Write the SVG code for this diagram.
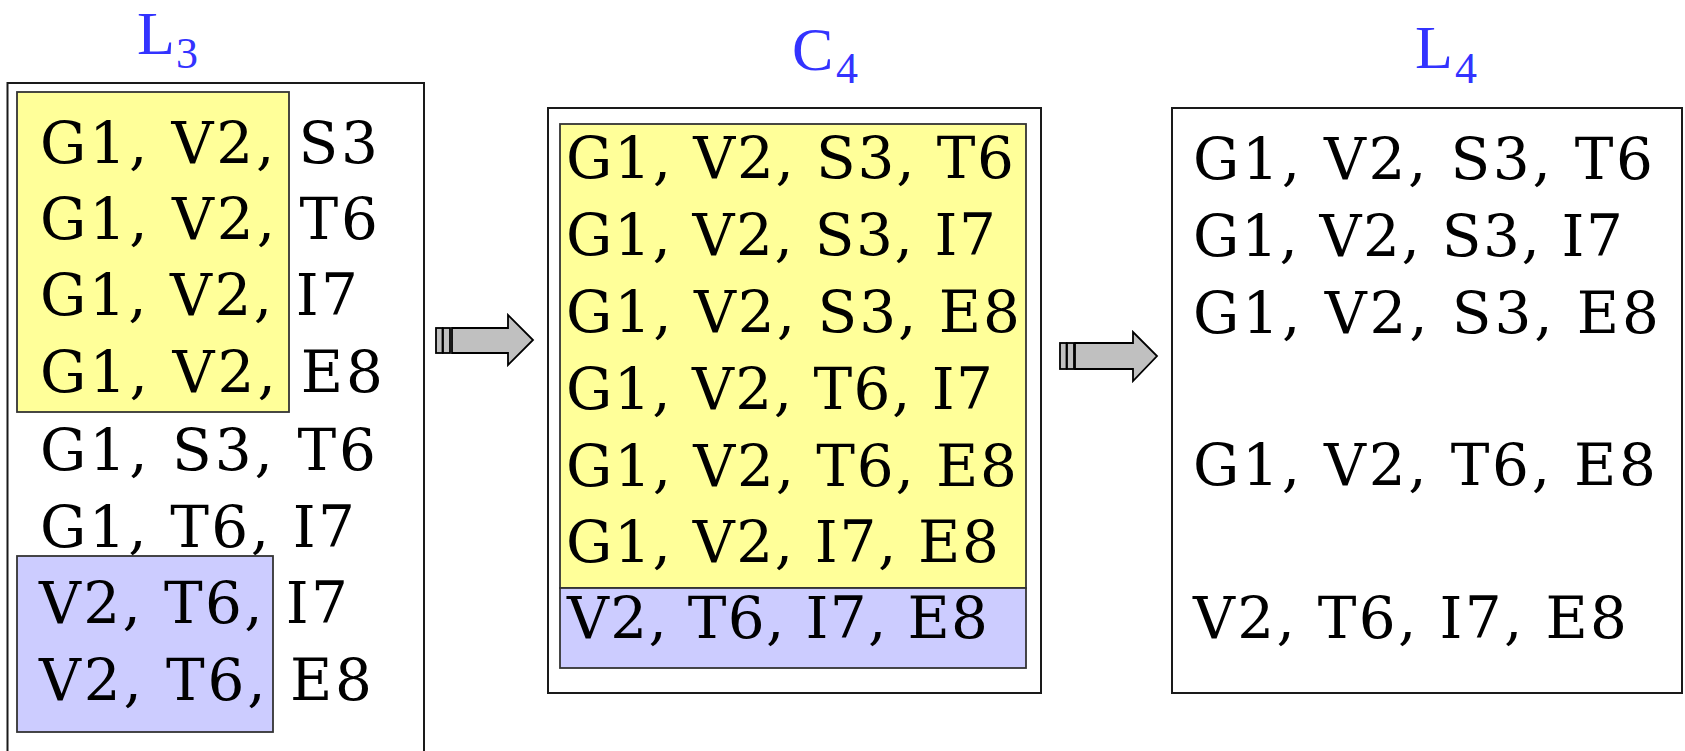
<svg xmlns="http://www.w3.org/2000/svg" width="1685" height="751" viewBox="0 0 1685 751">
<style>
.box{fill:#ffffff;stroke:#1a1a1a;stroke-width:2}
.yel{fill:#ffff99;stroke:#333333;stroke-width:1.8}
.blu{fill:#ccccff;stroke:#333333;stroke-width:1.8}
.t{font-family:"DejaVu Serif","Liberation Serif",serif;font-size:58px;fill:#000000}
.lab{font-family:"Liberation Serif","Times New Roman",serif;fill:#3333ff}
.arr{fill:#c0c0c0;stroke:#000000;stroke-width:1.8;stroke-linejoin:miter}
</style>
<rect width="1685" height="751" fill="#ffffff"/>

<g id="node-L3">
  <text class="lab"><tspan x="137" y="54" font-size="62">L</tspan><tspan x="176" y="68" font-size="44">3</tspan></text>
  <rect class="box" x="7.5" y="83" width="416.5" height="690"/>
  <rect class="yel" x="17" y="92" width="272" height="320"/>
  <rect class="blu" x="17" y="556" width="256" height="176"/>
  <text class="t" x="40" y="163" textLength="338" lengthAdjust="spacing">G1, V2, S3</text>
  <text class="t" x="40" y="239" textLength="338" lengthAdjust="spacing">G1, V2, T6</text>
  <text class="t" x="40" y="315" textLength="318" lengthAdjust="spacing">G1, V2, I7</text>
  <text class="t" x="40" y="392" textLength="343" lengthAdjust="spacing">G1, V2, E8</text>
  <text class="t" x="40" y="470" textLength="336" lengthAdjust="spacing">G1, S3, T6</text>
  <text class="t" x="40" y="547" textLength="315" lengthAdjust="spacing">G1, T6, I7</text>
  <text class="t" x="39" y="623" textLength="309" lengthAdjust="spacing">V2, T6, I7</text>
  <text class="t" x="39" y="700" textLength="333" lengthAdjust="spacing">V2, T6, E8</text>
</g>

<g id="node-C4">
  <text class="lab"><tspan x="792" y="70" font-size="62">C</tspan><tspan x="836" y="83" font-size="44">4</tspan></text>
  <rect class="box" x="548" y="108" width="493" height="585"/>
  <rect class="yel" x="560" y="124" width="466" height="464"/>
  <rect class="blu" x="560" y="588" width="466" height="80"/>
  <text class="t" x="566" y="178" textLength="448" lengthAdjust="spacing">G1, V2, S3, T6</text>
  <text class="t" x="566" y="255" textLength="430" lengthAdjust="spacing">G1, V2, S3, I7</text>
  <text class="t" x="566" y="332" textLength="454" lengthAdjust="spacing">G1, V2, S3, E8</text>
  <text class="t" x="566" y="409" textLength="427" lengthAdjust="spacing">G1, V2, T6, I7</text>
  <text class="t" x="566" y="486" textLength="451" lengthAdjust="spacing">G1, V2, T6, E8</text>
  <text class="t" x="566" y="562" textLength="433" lengthAdjust="spacing">G1, V2, I7, E8</text>
  <text class="t" x="567" y="638" textLength="421" lengthAdjust="spacing">V2, T6, I7, E8</text>
</g>

<g id="node-L4">
  <text class="lab"><tspan x="1415" y="68" font-size="62">L</tspan><tspan x="1455" y="83" font-size="44">4</tspan></text>
  <rect class="box" x="1172" y="108" width="510" height="585"/>
  <text class="t" x="1193" y="179" textLength="460" lengthAdjust="spacing">G1, V2, S3, T6</text>
  <text class="t" x="1193" y="256" textLength="430" lengthAdjust="spacing">G1, V2, S3, I7</text>
  <text class="t" x="1193" y="333" textLength="466" lengthAdjust="spacing">G1, V2, S3, E8</text>
  <text class="t" x="1193" y="485" textLength="463" lengthAdjust="spacing">G1, V2, T6, E8</text>
  <text class="t" x="1193" y="638" textLength="434" lengthAdjust="spacing">V2, T6, I7, E8</text>
</g>

<g id="connectors">
  <g id="arrow-1">
    <rect class="arr" x="436" y="328" width="6.5" height="25"/>
    <rect class="arr" x="443" y="328" width="7" height="25"/>
    <polygon class="arr" points="452,328 508,328 508,315 533,340 508,365 508,353 452,353"/>
  </g>
  <g id="arrow-2">
    <rect class="arr" x="1060" y="343" width="6.5" height="26"/>
    <rect class="arr" x="1067" y="343" width="7" height="26"/>
    <polygon class="arr" points="1075,343 1133,343 1133,332 1157,356 1133,381 1133,369 1075,369"/>
  </g>
</g>
</svg>
